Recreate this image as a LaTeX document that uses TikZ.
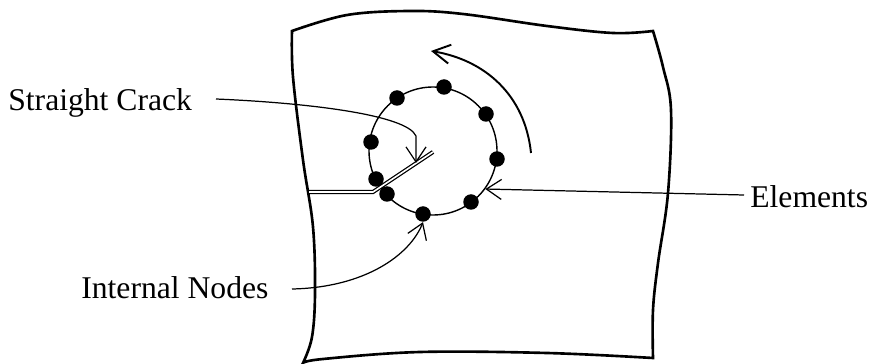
\documentclass[tikz,border=0pt]{standalone}
\usepackage{fontspec}
\setmainfont{Liberation Serif}
\usetikzlibrary{arrows.meta}
\tikzset{
	dot/.style={circle,fill=black,inner sep=0pt,minimum size=0.31cm},
	ring/.style={circle,draw,line width=0.8pt,inner sep=0pt,minimum size=2.56cm},
	leader/.style={line width=0.7pt,-{Straight Barb[length=0.3cm,width=0.4cm,line width=0.7pt]}},
	label/.style={inner sep=0pt,font=\fontsize{18}{20}\selectfont,anchor=base west}
}
\begin{document}
\begin{tikzpicture}[>=stealth]
	  \useasboundingbox (0,0) rectangle (17.4,-7.28);
	  % plate
	  \draw[line width=1.5pt,smooth,tension=0.6]
	  	plot coordinates {(5.84,-0.62) (6.94,-0.30) (8.2,-0.22) (9.26,-0.28) (10.94,-0.52) (12.26,-0.66) (13.06,-0.62)}
	  	-- plot coordinates {(13.06,-0.62) (13.26,-1.34) (13.42,-2.2) (13.36,-3.86) (13.16,-5.26) (13.06,-6.2) (13.06,-7.16)}
	  	-- plot coordinates {(13.06,-7.16) (10.94,-7.06) (8.4,-7.04) (6.46,-7.18) (6.06,-7.26)}
	  	-- plot coordinates {(6.06,-7.26) (6.24,-6.74) (6.3,-5.86) (6.26,-4.54) (6.06,-3.2) (5.86,-1.54) (5.84,-0.62)} -- cycle;
	  % circle and dots
	  \node[ring] (circ) at (8.66,-3.02) {};
	  \node[dot] (n1) at (8.88,-1.74) {};
	  \node[dot] (n2) at (7.94,-1.96) {};
	  \node[dot] (n3) at (9.72,-2.28) {};
	  \node[dot] (n4) at (7.42,-2.84) {};
	  \node[dot] (n5) at (9.94,-3.18) {};
	  \node[dot] (n6) at (7.52,-3.58) {};
	  \node[dot] (n7) at (7.74,-3.88) {};
	  \node[dot] (n8) at (9.42,-4.04) {};
	  \node[dot] (n9) at (8.46,-4.28) {};
	  % crack
	  \coordinate (c1) at (6.18,-3.84);
	  \coordinate (c2) at (7.46,-3.84);
	  \coordinate (c3) at (8.66,-3.04);
	  \coordinate (c4) at (8.32,-3.26);
	  \draw[double=white,double distance=0.9pt,line width=0.7pt] (c1) -- (c2) -- (c3);
	  % labels
	  \node[label] (crack) at (0.16,-2.22) {Straight Crack};
	  \node[label] (elem) at (15,-4.16) {Elements};
	  \node[label] (intn) at (1.62,-5.98) {Internal Nodes};
	  \coordinate (s1) at (4.32,-1.98);
	  \coordinate (s2) at (14.88,-3.9);
	  \coordinate (s3) at (5.84,-5.78);
	  % leaders
	  \draw[leader] (s1) .. controls (6.2,-2.06) and (8.14,-2.3) .. (8.32,-2.72) -- (c4);
	  \draw[leader] (s2) -- (circ.-36);
	  \draw[leader] (s3) .. controls (7.3,-5.75) and (8.2,-5.1) .. (n9.south);
	  % rotation arrow
	  \coordinate (r1) at (10.62,-3.06);
	  \coordinate (r2) at (8.62,-1.02);
	  \draw[line width=1.1pt,-{Straight Barb[length=0.34cm,width=0.38cm,line width=1.1pt]}] (r1) .. controls (10.5,-1.9) and (9.7,-1.2) .. (r2);
	\end{tikzpicture}
\end{document}
